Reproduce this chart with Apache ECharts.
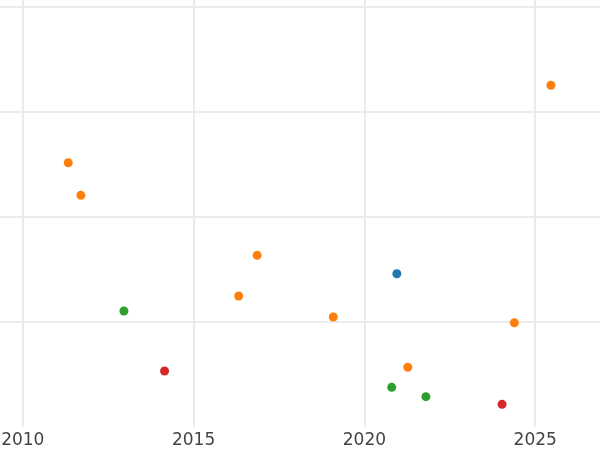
<!DOCTYPE html>
<html>
<head>
<meta charset="utf-8">
<script src="https://cdn.jsdelivr.net/npm/echarts@6/dist/echarts.min.js"></script>
<style>
  html, body { margin: 0; padding: 0; background: #fff; overflow: hidden; width: 600px; height: 450px; }
  /* the plot is cropped on the left, right and top, so the canvas is bigger than the window */
  #chart { position: absolute; left: -148px; top: -98px; width: 854px; height: 548px; }
</style>
</head>
<body>
<div id="chart"></div>
<script>
// points: [year, value]
var orangePts = [[2025.46, 3.255], [2011.33, 2.517], [2011.70, 2.206], [2016.86, 1.635],
                 [2016.32, 1.248], [2019.09, 1.048], [2024.39, 0.993], [2021.27, 0.569]];
var bluePts = [[2020.95, 1.460]];
var greenPts = [[2012.96, 1.105], [2020.80, 0.378], [2021.80, 0.289]];
var redPts = [[2014.15, 0.533], [2024.03, 0.216]];
var xTicks = [2005, 2010, 2015, 2020, 2025, 2030];

var chart = echarts.init(document.getElementById('chart'));

function dots(name, data, color) {
  return {
    name: name,
    type: 'scatter',
    data: data,
    symbolSize: 9,
    itemStyle: { color: color, opacity: 1 }
  };
}

var option = {
  animation: false,
  grid: { left: 0, right: 0, top: 0, bottom: 23, containLabel: false, outerBoundsMode: 'none' },
  xAxis: {
    type: 'value',
    min: xTicks[0],
    max: xTicks[xTicks.length - 1],
    interval: 5,
    axisLine: { show: false },
    axisTick: { show: false },
    axisLabel: {
      color: '#444', fontSize: 17, fontFamily: 'DejaVu Sans', margin: 5,
      showMinLabel: false, showMaxLabel: false,
      formatter: function (v) { return String(v); }
    },
    splitLine: { show: true, lineStyle: { color: '#ebebeb', width: 2 } }
  },
  yAxis: {
    type: 'value',
    min: 0,
    max: 5,
    interval: 1,
    axisLine: { show: false },
    axisTick: { show: false },
    axisLabel: { show: false },
    splitLine: { show: true, showMinLine: false, lineStyle: { color: '#ebebeb', width: 2 } }
  },
  series: [
    dots('orange', orangePts, '#ff7f0e'),
    dots('blue', bluePts, '#1f77b4'),
    dots('green', greenPts, '#2ca02c'),
    dots('red', redPts, '#d62728')
  ]
};

chart.setOption(option);
</script>
</body>
</html>
